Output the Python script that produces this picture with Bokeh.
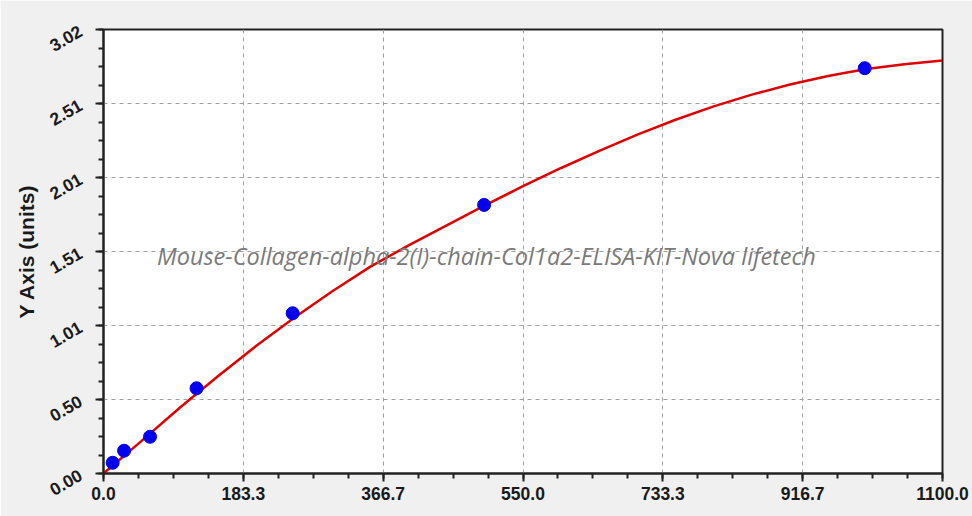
import math
from bokeh.plotting import figure
from bokeh.models import FixedTicker, Label, Range1d
from bokeh.embed import file_html
from bokeh.resources import INLINE

# ---- data ----
std_conc = [12, 27, 61, 122, 248, 499, 998]
std_od = [0.073, 0.155, 0.25, 0.58, 1.09, 1.827, 2.757]

curve_x = [0, 50, 100, 150, 200, 250, 300, 350, 400, 450, 500, 550, 600,
           650, 700, 750, 800, 850, 900, 950, 1000, 1050, 1100]
curve_y = [0.0, 0.222, 0.447, 0.662, 0.867, 1.060, 1.240, 1.407, 1.552,
           1.687, 1.824, 1.954, 2.078, 2.195, 2.305, 2.406, 2.497, 2.577,
           2.646, 2.704, 2.752, 2.784, 2.809]

x_tick_labels = ["0.0", "183.3", "366.7", "550.0", "733.3", "916.7", "1100.0"]
y_tick_labels = ["0.00", "0.50", "1.01", "1.51", "2.01", "2.51", "3.02"]
x_max = 1100.0
y_max = 3.02
watermark = "Mouse-Collagen-alpha-2(I)-chain-Col1a2-ELISA-KIT-Nova lifetech"
y_label = "Y Axis (units)"

# ---- figure ----
p = figure(width=972, height=516, output_backend="svg", toolbar_location=None,
           x_range=Range1d(0, x_max), y_range=Range1d(0, y_max),
           min_border_left=103, min_border_right=30, min_border_top=29,
           min_border_bottom=43)
p.border_fill_color = "#f0f0f0"
p.background_fill_color = "white"
p.outline_line_color = "#222222"
p.outline_line_width = 2

nx = len(x_tick_labels) - 1
ny = len(y_tick_labels) - 1
xt = [x_max * i / nx for i in range(nx + 1)]
yt = [y_max * i / ny for i in range(ny + 1)]
xm = [x_max * i / (nx * 4) for i in range(nx * 4 + 1)]
ym = [y_max * i / (ny * 4) for i in range(ny * 4 + 1)]

p.xaxis.ticker = FixedTicker(ticks=xt, minor_ticks=xm)
p.yaxis.ticker = FixedTicker(ticks=yt, minor_ticks=ym)
p.xaxis.major_label_overrides = {v: s for v, s in zip(xt, x_tick_labels)}
p.yaxis.major_label_overrides = {v: s for v, s in zip(yt, y_tick_labels)}

for ax in (p.xaxis, p.yaxis):
    ax.axis_line_color = "#222222"
    ax.axis_line_width = 2
    ax.major_tick_line_color = "#222222"
    ax.minor_tick_line_color = "#222222"
    ax.major_tick_line_width = 2
    ax.minor_tick_line_width = 2
    ax.major_tick_out = 8
    ax.major_tick_in = 0
    ax.minor_tick_out = 5
    ax.minor_tick_in = 0
    ax.major_label_text_font = "Liberation Sans"
    ax.major_label_text_font_style = "bold"
    ax.major_label_text_font_size = "17.5px"
    ax.major_label_text_color = "#1a1a1a"

p.xaxis.major_label_standoff = 5
p.yaxis.major_label_standoff = 15
p.yaxis.major_label_orientation = math.pi / 6
p.yaxis.axis_label = y_label
p.yaxis.axis_label_text_font = "Liberation Sans"
p.yaxis.axis_label_text_font_style = "bold"
p.yaxis.axis_label_text_font_size = "21px"
p.yaxis.axis_label_text_color = "#1a1a1a"
p.yaxis.axis_label_standoff = 4

p.grid.grid_line_color = "#a0a0a0"
p.grid.grid_line_dash = "4 4"
p.grid.grid_line_width = 1

p.add_layout(Label(x=502, y=1.48, text=watermark, text_align="center",
                   text_baseline="middle", text_font="Open Sans",
                   text_font_style="italic", text_font_size="23.5px",
                   text_color="#7a7a7a"))

p.line(curve_x, curve_y, line_color="#e00000", line_width=2.5)
p.scatter(std_conc, std_od, size=13, fill_color="#0000ee", line_color="#0000ee")

html = file_html(p, INLINE)
html = html.replace("<body>", '<body style="background:#f0f0f0">', 1)
open("out.html", "w").write(html)
